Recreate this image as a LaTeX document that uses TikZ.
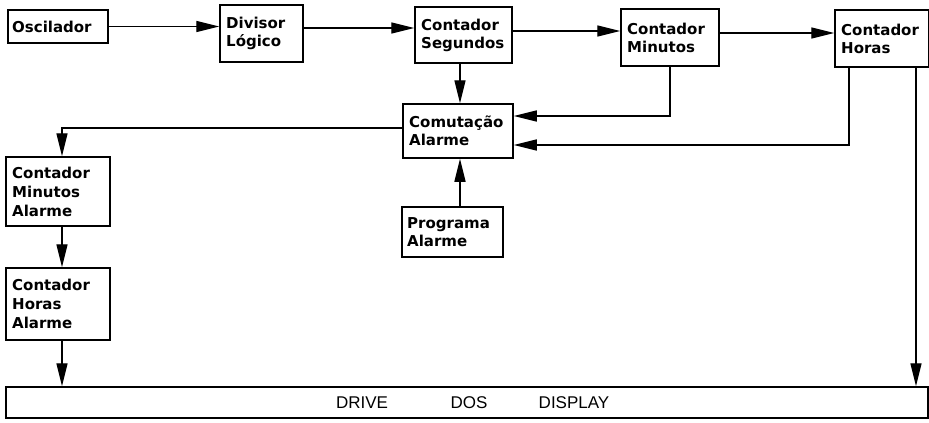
\documentclass[tikz,border=0pt]{standalone}
\usepackage{fontspec}
\setmainfont{DejaVu Sans}
\newfontfamily\drivefont{Liberation Sans}
\usetikzlibrary{arrows.meta}
\tikzset{
  blk/.style={draw, line width=1.5pt, inner sep=0pt},
  btxt/.style={anchor=west, align=left, inner sep=0pt,
    font=\fontsize{15}{18}\selectfont\bfseries},
  conn/.style={line width=1.4pt, -{Triangle[length=23pt,width=11pt]}},
  lbl/.style={font=\drivefont\fontsize{17}{18}\selectfont, inner sep=0pt}
}
\begin{document}
\begin{tikzpicture}[x=1pt,y=-1pt]
\useasboundingbox[fill=white] (0,0) rectangle (929,423);
% boxes
\node[blk, minimum width=100, minimum height=33] (osc) at (58,26.5) {};
\node[btxt] (osct) at (12,27) {Oscilador};
\node[blk, minimum width=83, minimum height=57] (div) at (261.5,33.5) {};
\node[btxt] (divt) at (226,33.5) {Divisor\\Lógico};
\node[blk, minimum width=97, minimum height=56] (seg) at (463.5,35) {};
\node[btxt] (segt) at (421,35) {Contador\\Segundos};
\node[blk, minimum width=98, minimum height=57] (min) at (670,37.5) {};
\node[btxt] (mint) at (627,37.5) {Contador\\Minutos};
\node[blk, minimum width=94, minimum height=57] (hor) at (882,38.5) {};
\node[btxt] (hort) at (841,38.5) {Contador\\Horas};
\node[blk, minimum width=110, minimum height=54] (com) at (458,131) {};
\node[btxt] (comt) at (409,131) {Comutação\\Alarme};
\node[blk, minimum width=101, minimum height=50] (prog) at (452.5,232) {};
\node[btxt] (progt) at (407,232) {Programa\\Alarme};
\node[blk, minimum width=104, minimum height=69] (mina) at (58,191.5) {};
\node[btxt, font=\fontsize{15}{19}\selectfont\bfseries] (minat) at (12,191.5) {Contador\\Minutos\\Alarme};
\node[blk, minimum width=104, minimum height=72] (hora) at (58,304) {};
\node[btxt, font=\fontsize{15}{19}\selectfont\bfseries] (horat) at (12,304) {Contador\\Horas\\Alarme};
\node[blk, minimum width=922, minimum height=31] (drv) at (467,402.5) {};
\node[lbl] (d1) at (362,403) {DRIVE};
\node[lbl] (d2) at (469,403) {DOS};
\node[lbl] (d3) at (574,403) {DISPLAY};
% connectors
\draw[conn] (osc.east) -- (osc.east -| div.west);
\draw[conn] (div.east |- 0,28) -- (seg.west |- 0,28);
\draw[conn] (seg.east |- 0,31) -- (min.west |- 0,31);
\draw[conn] (min.east |- 0,33) -- (hor.west |- 0,33);
\draw[conn] (seg.south -| 460,0) -- (com.north -| 460,0);
\draw[conn] (prog.north -| 460,0) -- (com.south -| 460,0);
\draw[conn] (min.south -| 670,0) -- (670,116) -- (com.east |- 0,116);
\draw[conn] (hor.south -| 849,0) -- (849,145) -- (com.east |- 0,145);
\draw[conn] (hor.south -| 916,0) -- (drv.north -| 916,0);
\draw[conn] (com.west |- 0,128) -- (62,128) -- (mina.north -| 62,0);
\draw[conn] (mina.south -| 62,0) -- (hora.north -| 62,0);
\draw[conn] (hora.south -| 62,0) -- (drv.north -| 62,0);
\end{tikzpicture}
\end{document}
